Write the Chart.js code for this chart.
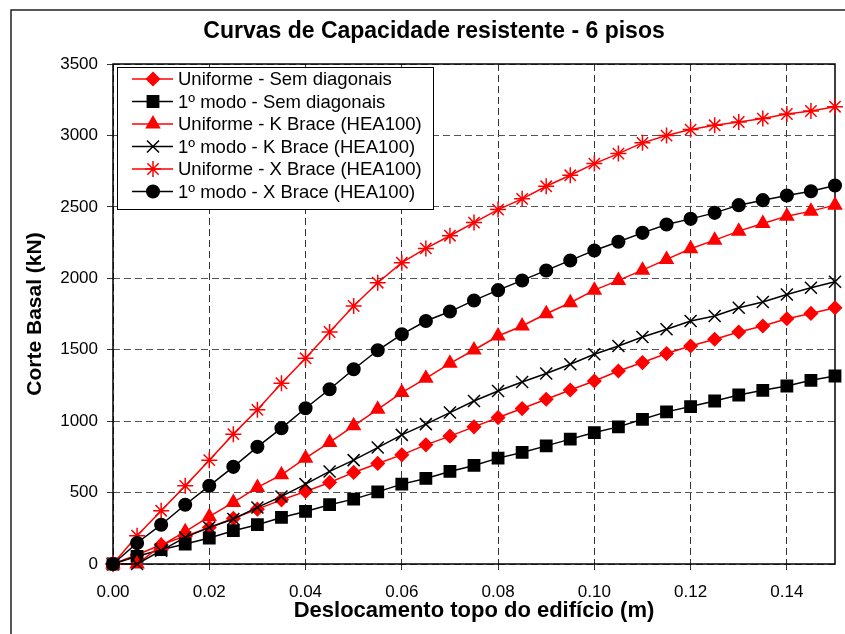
<!DOCTYPE html>
<html>
<head>
<meta charset="utf-8">
<script src="https://cdn.jsdelivr.net/npm/chart.js@4/dist/chart.umd.min.js"></script>
<style>
  html, body { margin: 0; padding: 0; background: #fff; }
  #wrap { width: 845px; height: 634px; }
</style>
</head>
<body>
<div id="wrap"><canvas id="capChart" width="845" height="634"></canvas></div>
<script>
// deslocamento do topo (m)
const deslocamento = [0, 0.005, 0.01, 0.015, 0.02, 0.025, 0.03, 0.035, 0.04, 0.045, 0.05,
    0.055, 0.06, 0.065, 0.07, 0.075, 0.08, 0.085, 0.09, 0.095, 0.10,
    0.105, 0.11, 0.115, 0.12, 0.125, 0.13, 0.135, 0.14, 0.145, 0.15];

// corte basal (kN)
const uniformeSem = [0, 65, 135, 195, 256, 319, 384, 449, 508, 571, 641, 704, 764, 834, 895, 960,
    1025, 1088, 1153, 1218, 1281, 1351, 1410, 1473, 1526, 1573, 1624, 1666, 1717, 1754, 1794];
const modoSem = [0, 54, 100, 140, 182, 233, 275, 326, 368, 415, 454, 505, 559, 599, 648, 690,
    741, 781, 827, 874, 920, 960, 1013, 1065, 1102, 1141, 1183, 1216, 1246, 1286, 1316];
const uniformeK = [0, 0, 128, 226, 331, 431, 536, 624, 741, 851, 967, 1083, 1200, 1300, 1405, 1498,
    1596, 1666, 1752, 1829, 1917, 1985, 2057, 2132, 2207, 2267, 2330, 2384, 2435, 2470, 2512];
const modoK = [0, 0, 93, 186, 256, 315, 396, 473, 559, 648, 727, 815, 904, 979, 1060, 1141,
    1211, 1274, 1333, 1398, 1468, 1526, 1589, 1643, 1701, 1736, 1794, 1834, 1887, 1934, 1976];
const uniformeX = [0, 198, 373, 547, 727, 909, 1079, 1265, 1440, 1624, 1806, 1969, 2109, 2209, 2298, 2390,
    2481, 2556, 2644, 2721, 2803, 2873, 2948, 2999, 3041, 3071, 3094, 3118, 3150, 3171, 3201];
const modoX = [0, 147, 275, 415, 547, 680, 820, 951, 1090, 1223, 1363, 1496, 1608, 1701, 1767, 1845,
    1917, 1985, 2055, 2125, 2195, 2256, 2318, 2377, 2416, 2458, 2512, 2547, 2579, 2609, 2649];

const series = [
    { label: 'Uniforme - Sem diagonais', values: uniformeSem, color: '#ff0000', style: 'rectRot', r: 6.5 },
    { label: '1º modo - Sem diagonais', values: modoSem, color: '#000000', style: 'rect', r: 8 },
    { label: 'Uniforme - K Brace (HEA100)', values: uniformeK, color: '#ff0000', style: 'triangle', r: 7.5 },
    { label: '1º modo - K Brace (HEA100)', values: modoK, color: '#000000', style: 'crossRot', r: 8.5 },
    { label: 'Uniforme - X Brace (HEA100)', values: uniformeX, color: '#ff0000', style: 'star', r: 8 },
    { label: '1º modo - X Brace (HEA100)', values: modoX, color: '#000000', style: 'circle', r: 6.3 }
];

const FONT = "'Liberation Sans', Arial, sans-serif";

// moldura exterior + caixa da área do gráfico
const framePlugin = {
    id: 'frame',
    beforeDraw(chart) {
        const ctx = chart.ctx;
        ctx.save();
        ctx.fillStyle = '#fff';
        ctx.fillRect(0, 0, chart.width, chart.height);
        ctx.strokeStyle = '#222';
        ctx.lineWidth = 1.5;
        ctx.strokeRect(11, 10, chart.width + 20, chart.height + 20);
        ctx.restore();
    },
    beforeDatasetsDraw(chart) {
        const a = chart.chartArea;
        const ctx = chart.ctx;
        ctx.save();
        ctx.strokeStyle = '#000';
        ctx.lineWidth = 1.5;
        ctx.strokeRect(a.left, a.top, a.right - a.left, a.bottom - a.top);
        ctx.restore();
    }
};

// legenda com caixa, dentro da área do gráfico
const legendBox = {
    id: 'legendBox',
    afterDraw(chart) {
        const ctx = chart.ctx;
        const x0 = 117, y0 = 67, w = 316, h = 142;
        ctx.save();
        ctx.fillStyle = '#fff';
        ctx.fillRect(x0, y0, w, h);
        ctx.strokeStyle = '#000';
        ctx.lineWidth = 1;
        ctx.strokeRect(x0 + 0.5, y0 + 0.5, w, h);
        ctx.font = '18.5px ' + FONT;
        ctx.textBaseline = 'middle';
        ctx.textAlign = 'left';
        chart.data.datasets.forEach((ds, i) => {
            const y = 79 + i * 22.5;
            ctx.strokeStyle = ds.borderColor;
            ctx.lineWidth = 1.5;
            ctx.beginPath();
            ctx.moveTo(132, y);
            ctx.lineTo(173, y);
            ctx.stroke();
            ctx.fillStyle = ds.backgroundColor;
            ctx.strokeStyle = ds.borderColor;
            ctx.lineWidth = ds.pointBorderWidth;
            Chart.helpers.drawPoint(ctx, {
                pointStyle: ds.pointStyle,
                radius: ds.pointRadius,
                rotation: 0,
                borderWidth: ds.pointBorderWidth
            }, 153, y);
            ctx.fillStyle = '#000';
            ctx.fillText(ds.label, 178, y + 1);
        });
        ctx.restore();
    }
};

const ctx = document.getElementById('capChart').getContext('2d');
new Chart(ctx, {
    type: 'scatter',
    data: {
        datasets: series.map((s, i) => ({
            label: s.label,
            data: deslocamento.map((d, k) => ({ x: d, y: s.values[k] })),
            showLine: true,
            borderColor: s.color,
            backgroundColor: s.color,
            borderWidth: 1.5,
            pointStyle: s.style,
            pointRadius: s.r,
            pointHoverRadius: s.r,
            pointBorderWidth: 1.5,
            tension: 0,
            clip: false,
            order: series.length - i
        }))
    },
    options: {
        responsive: false,
        animation: false,
        layout: { padding: { left: 30, right: 7, top: 0, bottom: 0 } },
        plugins: {
            legend: { display: false },
            tooltip: { enabled: false },
            title: {
                display: true,
                text: 'Curvas de Capacidade resistente - 6 pisos',
                color: '#000',
                font: { family: FONT, size: 23, weight: 'bold' },
                padding: { top: 18, bottom: 18.4 }
            }
        },
        scales: {
            x: {
                type: 'linear',
                min: 0,
                max: 0.15,
                afterFit(scale) { scale.height = 70; },
                ticks: {
                    stepSize: 0.02,
                    includeBounds: false,
                    padding: 12,
                    color: '#000',
                    font: { family: FONT, size: 17 },
                    callback: v => v.toFixed(2)
                },
                grid: {
                    color: '#333',
                    lineWidth: 1,
                    tickLength: 6,
                    tickColor: '#333',
                    tickBorderDash: []
                },
                border: { display: false, dash: [7, 4] },
                title: {
                    display: true,
                    text: 'Deslocamento topo do edifício (m)',
                    color: '#000',
                    font: { family: FONT, size: 22, weight: 'bold' },
                    padding: { top: 0, bottom: 10 }
                }
            },
            y: {
                type: 'linear',
                min: 0,
                max: 3500,
                afterFit(scale) { scale.width = 83; },
                ticks: {
                    stepSize: 500,
                    padding: 9,
                    color: '#000',
                    font: { family: FONT, size: 17 },
                    callback: v => String(v)
                },
                grid: {
                    color: '#555',
                    lineWidth: 1,
                    tickLength: 6,
                    tickColor: '#333',
                    tickBorderDash: []
                },
                border: { display: false, dash: [7, 4] },
                title: {
                    display: true,
                    text: 'Corte Basal (kN)',
                    color: '#000',
                    font: { family: FONT, size: 21, weight: 'bold' },
                    padding: { top: -7, bottom: 0 }
                }
            }
        }
    },
    plugins: [framePlugin, legendBox]
});
</script>
</body>
</html>
